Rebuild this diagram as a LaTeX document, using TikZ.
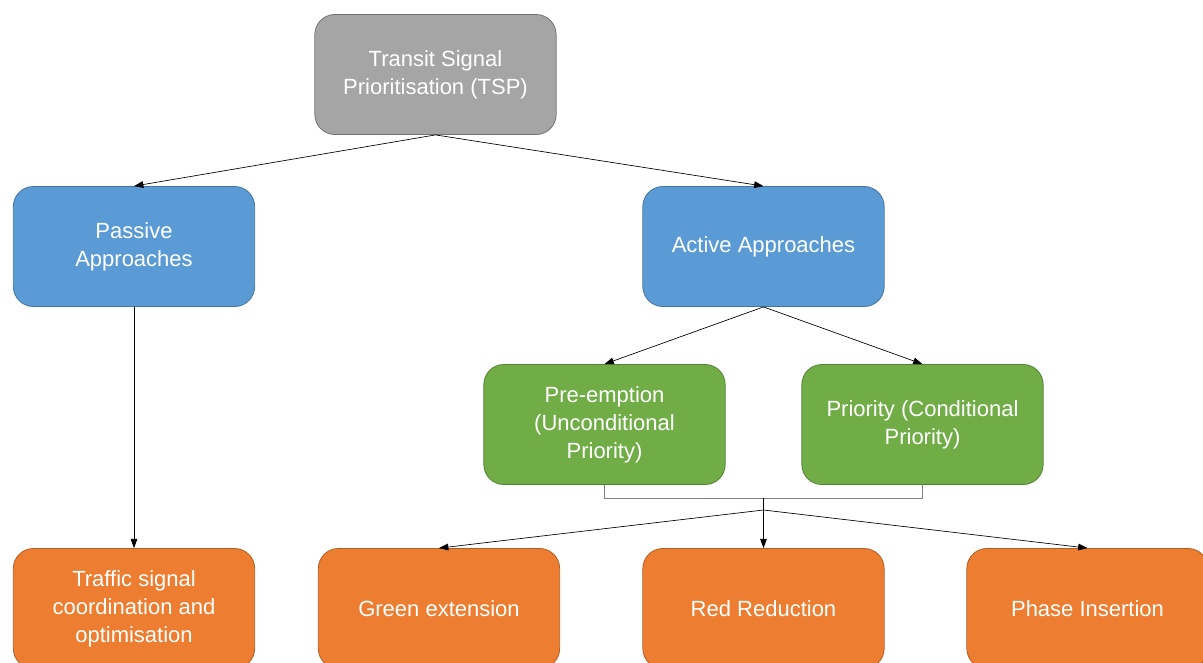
\documentclass[tikz,border=0pt]{standalone}
\usepackage{fontspec}
\setmainfont{Liberation Sans}
\usetikzlibrary{arrows.meta}

\begin{document}
\begin{tikzpicture}[x=0.75pt, y=-0.75pt,
      every node/.style = {shape=rectangle, rounded corners=15pt,
        align=center, text=white, line width=0.6pt,
        minimum width=181pt, minimum height=90pt,
        font=\fontsize{16.5}{21}\selectfont},
      topbox/.style = {fill=tspgray, draw=tspgray!70!black},
      approachbox/.style = {fill=appblue, draw=appblue!75!black},
      kindbox/.style = {fill=kindgreen, draw=kindgreen!75!black},
      methodbox/.style = {fill=methodorange, draw=methodorange!75!black},
      link/.style = {-{Triangle[length=7pt,width=5pt]}, line width=0.5pt}]
    \definecolor{tspgray}{HTML}{A5A5A5}
    \definecolor{appblue}{HTML}{5B9BD5}
    \definecolor{kindgreen}{HTML}{70AD47}
    \definecolor{methodorange}{HTML}{ED7D31}
    \useasboundingbox (0,0) rectangle (1203,662);
    \node[topbox] (tsp) at (435.5,74.5) {Transit Signal\\Prioritisation (TSP)};
    \node[approachbox] (passive) at (134,246.5) {Passive\\Approaches};
    \node[approachbox] (active) at (763.5,246.5) {Active Approaches};
    \node[kindbox] (preempt) at (604.5,424.5) {Pre-emption\\(Unconditional\\Priority)};
    \node[kindbox] (priority) at (922.5,424.5) {Priority (Conditional\\Priority)};
    \node[methodbox] (coord) at (134,608.5) {Traffic signal\\coordination and\\optimisation};
    \node[methodbox] (green) at (439,608.5) {Green extension};
    \node[methodbox] (red) at (763.5,608.5) {Red Reduction};
    \node[methodbox] (phase) at (1087.5,608.5) {Phase Insertion};
    \coordinate (brace) at (763.5,498);
    \coordinate (fork) at (763.5,510);
    % connectors
    \draw[link] (tsp.south) -- (passive.north);
    \draw[link] (tsp.south) -- (active.north);
    \draw[link] (active.south) -- (preempt.north);
    \draw[link] (active.south) -- (priority.north);
    \draw[link] (passive.south) -- (coord.north);
    \draw[gray, line width=0.6pt] (preempt.south) |- (brace) -| (priority.south);
    \draw[line width=0.5pt] (brace) -- (fork);
    \draw[link] (fork) -- (green.north);
    \draw[link] (fork) -- (red.north);
    \draw[link] (fork) -- (phase.north);
  \end{tikzpicture}
\end{document}
